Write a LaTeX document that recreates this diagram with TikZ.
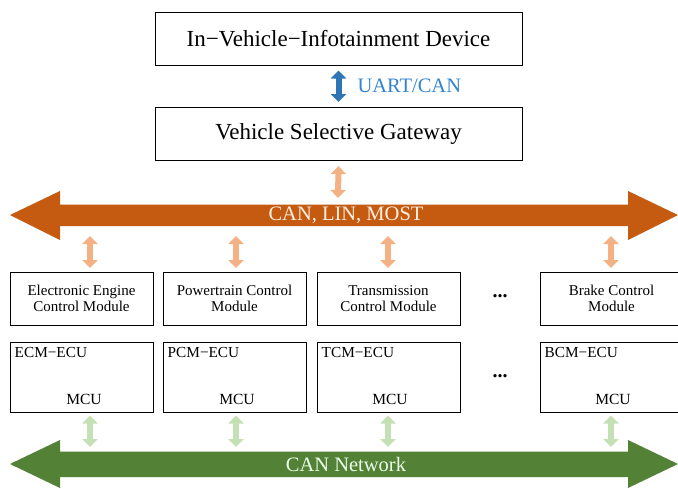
\documentclass[tikz,border=0pt]{standalone}
\usepackage{fontspec}
\setmainfont{Liberation Serif}
\usetikzlibrary{arrows.meta}
\definecolor{bluearr}{HTML}{2E75B6}
\definecolor{bluetxt}{HTML}{3384CF}
\definecolor{orangedark}{HTML}{C55A11}
\definecolor{orangelight}{HTML}{F4B183}
\definecolor{greendark}{HTML}{538135}
\definecolor{greenlight}{HTML}{C5E0B4}
\tikzset{
  topbox/.style={draw=black, line width=1pt, minimum width=367pt, minimum height=53pt, font=\fontsize{23}{25}\selectfont},
  modbox/.style={draw=black, line width=1pt, minimum width=143pt, minimum height=53pt, align=center, font=\fontsize{15}{16}\selectfont},
  ecubox/.style={draw=black, line width=1pt, minimum width=143pt, minimum height=70pt},
  ecutxt/.style={anchor=north west, inner sep=0pt, font=\fontsize{15.3}{17}\selectfont},
  mcutxt/.style={inner sep=0pt, font=\fontsize{15.5}{17}\selectfont},
  duplex/.style={line width=6pt, {Triangle[width=15pt,length=8pt]}-{Triangle[width=15pt,length=8pt]}, shorten <=0pt, shorten >=0pt},
  bluelink/.style={duplex, draw=bluearr},
  orangelink/.style={duplex, draw=orangelight},
  greenlink/.style={duplex, draw=greenlight},
  dots/.style={font=\fontsize{20}{22}\bfseries\selectfont, inner sep=0pt},
  bustxt/.style={font=\fontsize{20.5}{22}\selectfont}
}
\begin{document}
\begin{tikzpicture}[x=1pt, y=-1pt]
\useasboundingbox (0,0) rectangle (678,488);
% top boxes
\node[topbox] (ivi) at (338.5,38.5) {In−Vehicle−Infotainment Device};
\node[topbox] (gw) at (338.5,134) {Vehicle Selective Gateway};
\draw[bluelink] ([yshift=-5pt]ivi.south) -- ([yshift=5pt]gw.north);
\node[anchor=west, text=bluetxt, font=\fontsize{20.5}{22}\selectfont] (uart) at (354,86) {UART/CAN};
% orange bus
\fill[orangedark] (10,215) -- (60,191) -- (60,204.5) -- (628,204.5) -- (628,191) -- (678,215) -- (628,240) -- (628,226) -- (60,226) -- (60,240) -- cycle;
\node[bustxt, text=orange!12!white] (canbus) at (346,215) {CAN, LIN, MOST};
\coordinate (ob1) at (338,198);
\draw[orangelink] ([yshift=-5pt]gw.south) -- (ob1);
% module boxes
\node[modbox] (ecm) at (81.5,298.5) {Electronic Engine\\Control Module};
\node[modbox] (pcm) at (234.5,298.5) {Powertrain Control\\Module};
\node[modbox] (tcm) at (388.5,298.5) {Transmission\\Control Module};
\node[modbox] (bcm) at (611.5,298.5) {Brake Control\\Module};
\node[dots] (d1) at (500,296) {...};
\foreach \n/\x in {ecm/90, pcm/236, tcm/388, bcm/611}{
  \coordinate (ot\n) at (\x,236);
  \draw[orangelink] (ot\n) -- (\x,268);
}
% ECU boxes
\node[ecubox] (ecmecu) at (81.5,377) {};
\node[ecubox] (pcmecu) at (234.5,377) {};
\node[ecubox] (tcmecu) at (388.5,377) {};
\node[ecubox] (bcmecu) at (611.5,377) {};
\node[ecutxt] (l1) at ([xshift=5pt,yshift=-6pt]ecmecu.north west) {ECM−ECU};
\node[ecutxt] (l2) at ([xshift=5pt,yshift=-6pt]pcmecu.north west) {PCM−ECU};
\node[ecutxt] (l3) at ([xshift=5pt,yshift=-6pt]tcmecu.north west) {TCM−ECU};
\node[ecutxt] (l4) at ([xshift=5pt,yshift=-6pt]bcmecu.north west) {BCM−ECU};
\node[mcutxt] (m1) at (84,399) {MCU};
\node[mcutxt] (m2) at (237,399) {MCU};
\node[mcutxt] (m3) at (390,399) {MCU};
\node[mcutxt] (m4) at (613,399) {MCU};
\node[dots] (d2) at (500,376) {...};
% green bus
\fill[greendark] (10,464) -- (60,440) -- (60,451.5) -- (628,451.5) -- (628,440) -- (678,464) -- (628,488) -- (628,477) -- (60,477) -- (60,488) -- cycle;
\node[bustxt, text=green!8!white] (cannet) at (346,464) {CAN Network};
\draw[greenlink] ([xshift=8.5pt,yshift=-3pt]ecmecu.south) -- (90,447);
\draw[greenlink] ([xshift=1.5pt,yshift=-3pt]pcmecu.south) -- (236,447);
\draw[greenlink] ([xshift=-0.5pt,yshift=-3pt]tcmecu.south) -- (388,447);
\draw[greenlink] ([xshift=-0.5pt,yshift=-3pt]bcmecu.south) -- (611,447);
\end{tikzpicture}
\end{document}
